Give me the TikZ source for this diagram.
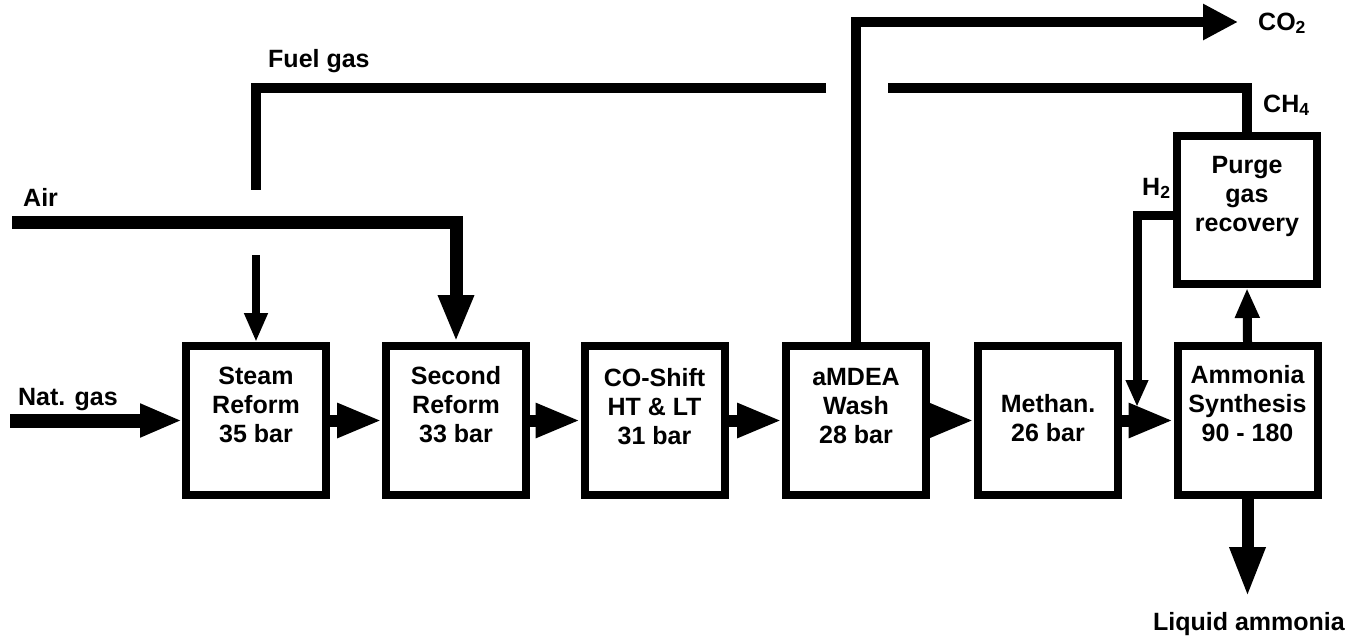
\documentclass[tikz,border=0pt]{standalone}
\usepackage{fontspec}
\setmainfont{Liberation Sans}
\usetikzlibrary{arrows.meta,calc}
\begin{document}
\begin{tikzpicture}[x=1pt,y=-1pt,
  box/.style={draw, line width=8pt, minimum width=140pt, minimum height=149pt, inner sep=0pt},
  txt/.style={font=\bfseries\fontsize{25}{29}\selectfont, align=center, inner sep=0pt},
  lbl/.style={font=\bfseries\fontsize{25}{29}\selectfont, inner sep=0pt},
  mainflow/.style={line width=12pt, -{Triangle[length=45pt,width=32pt]}},
  natgas/.style={line width=14pt, -{Triangle[length=42pt,width=31pt]}},
  airline/.style={line width=13pt},
  airarrow/.style={line width=13pt, -{Triangle[length=47pt,width=33pt]}},
  fuel/.style={line width=10pt},
  fuelarrow/.style={line width=8pt, -{Triangle[length=29pt,width=22pt]}},
  co2line/.style={line width=10pt, -{Triangle[length=35pt,width=34pt]}},
  h2line/.style={line width=9pt, -{Triangle[length=27pt,width=21pt]}},
  uparrow/.style={line width=9pt, -{Triangle[length=30pt,width=23pt]}},
  liqarrow/.style={line width=12pt, -{Triangle[length=50pt,width=33pt]}}
]
\useasboundingbox (0,0) rectangle (1350,635);

% boxes
\node[box] (steam)  at (256,420.5) {};
\node[box] (second) at (456,420.5) {};
\node[box] (shift)  at (654.5,420.5) {};
\node[box] (amdea)  at (856,420.5) {};
\node[box] (methan) at (1048,420.5) {};
\node[box] (nh3)    at (1247.5,420.5) {};
\node[box, minimum height=148pt] (purge) at (1247,210) {};

% box texts
\node[txt] (tsteam)  at ($(steam.center)+(0,-16)$)  {Steam\\Reform\\35 bar};
\node[txt] (tsecond) at ($(second.center)+(0,-16)$) {Second\\Reform\\33 bar};
\node[txt] (tshift)  at ($(shift.center)+(0,-14)$)  {CO-Shift\\HT \& LT\\31 bar};
\node[txt] (tamdea)  at ($(amdea.center)+(0,-14)$)  {aMDEA\\Wash\\28 bar};
\node[txt] (tmethan) at ($(methan.center)+(0,-2)$)  {Methan.\\26 bar};
\node[txt] (tnh3)    at ($(nh3.center)+(0,-17)$)    {Ammonia\\Synthesis\\90 - 180};
\node[txt] (tpurge)  at ($(purge.center)+(0,-14)$)  {Purge\\gas\\recovery};

% labels
\node[lbl, anchor=base west] (lfuel) at (268,67) {Fuel gas};
\node[lbl, anchor=base west] (lair) at (23,206) {Air};
\node[lbl, anchor=base west] (lng) at (18,405) {Nat. gas};
\node[lbl, anchor=base west] (lco2) at (1258,30) {CO\textsubscript{2}};
\node[lbl, anchor=base west] (lch4) at (1263,112) {CH\textsubscript{4}};
\node[lbl, anchor=base west] (lh2) at (1142,195) {H\textsubscript{2}};
\node[lbl, anchor=base] (lliq) at (1249,630) {Liquid ammonia};

% main flow
\coordinate (ng) at (10,420.5);
\draw[natgas] (ng) -- (steam.west);
\draw[mainflow] (steam.east) -- (second.west);
\draw[mainflow] (second.east) -- (shift.west);
\draw[mainflow] (shift.east) -- (amdea.west);
\draw[mainflow] (amdea.east) -- (methan.west);
\draw[mainflow] (methan.east) -- (nh3.west);

% air
\coordinate (air0) at (12,222);
\draw[airarrow] (air0) -| (second.north);

% fuel gas
\coordinate (f0) at (888,88);
\coordinate (f1) at (826,88);
\coordinate (f2) at (256,190);
\coordinate (f3) at (256,255);
\draw[fuel] (purge.north) |- (f0);
\draw[fuel] (f1) -| (f2);
\draw[fuelarrow] (f3) -- (steam.north);

% CO2
\coordinate (co2) at (1238,22);
\draw[co2line] (amdea.north) |- (co2);

% H2 recycle
\coordinate (h2a) at ($(purge.west)+(0,5)$);
\coordinate (h2b) at (1137,407);
\draw[h2line] (h2a) -| (h2b);

% synthesis to purge, liquid product
\draw[uparrow] (nh3.north) -- (purge.south);
\coordinate (liq) at (1247.5,597);
\draw[liqarrow] (nh3.south) -- (liq);
\end{tikzpicture}
\end{document}
